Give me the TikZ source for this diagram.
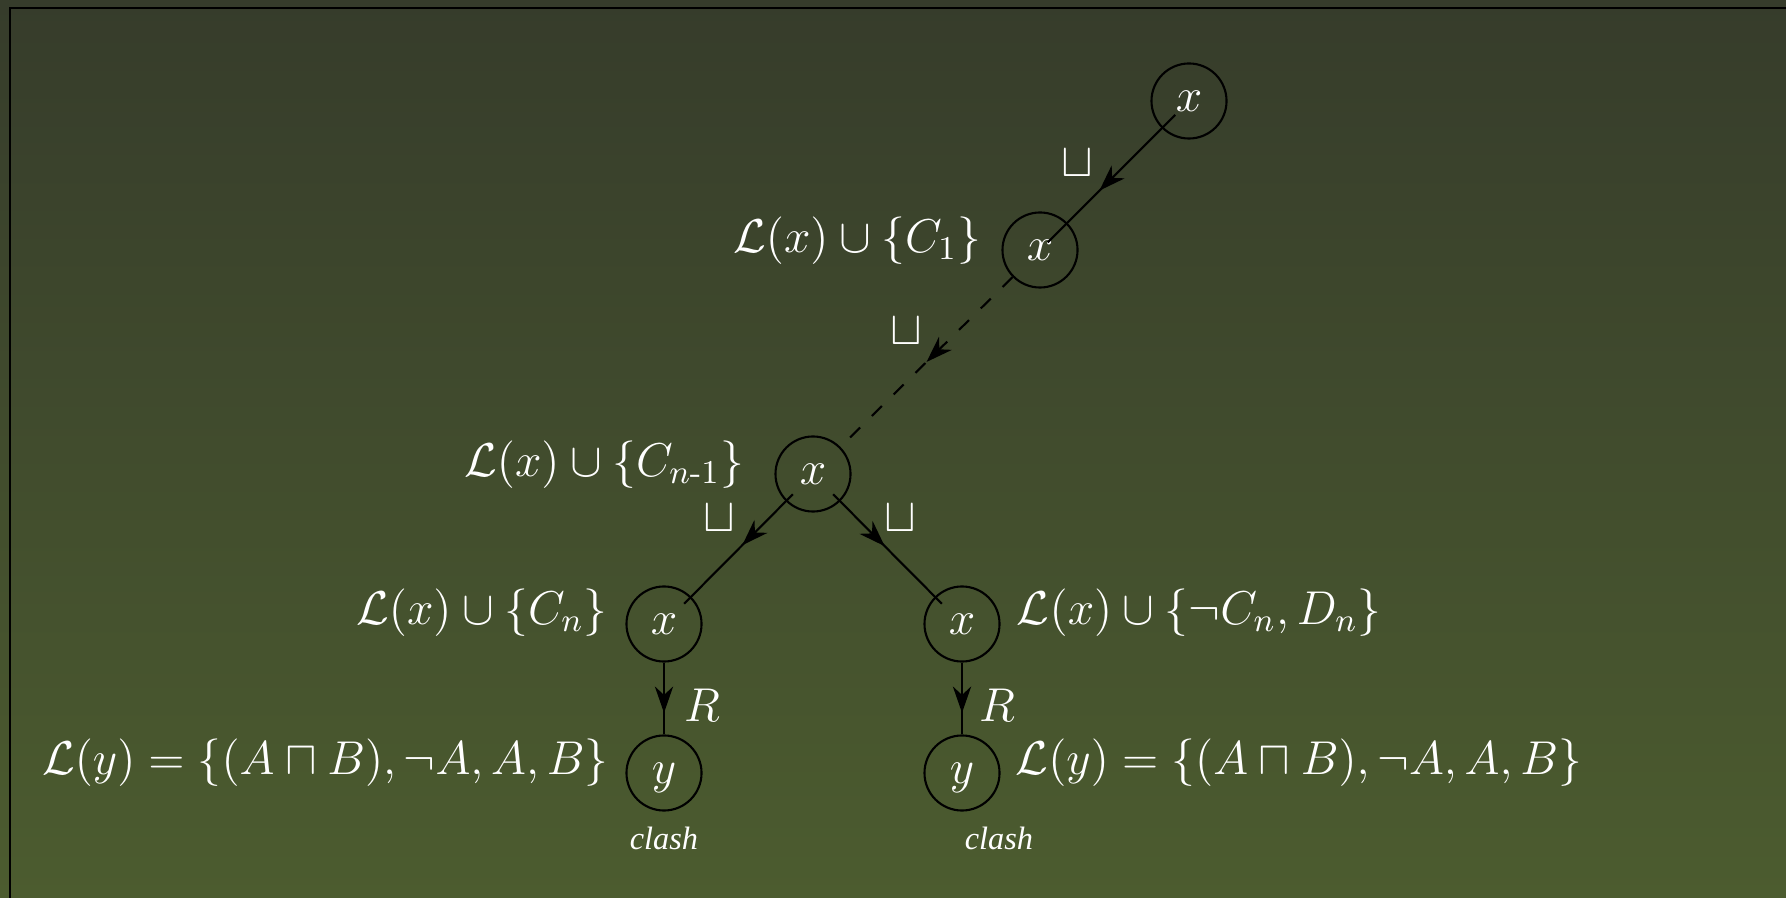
\documentclass[tikz,border=0pt]{standalone}
\usepackage{fix-cm}
\usepackage{amsmath}
\usepackage{fontspec}
\newfontfamily\clashfont{Liberation Serif}
\usetikzlibrary{arrows.meta, decorations.markings, positioning}

\definecolor{slidetop}{RGB}{54,60,43}
\definecolor{slidebot}{RGB}{76,92,47}

\tikzset{
	vtx/.style={circle, draw, minimum size=0.75cm, inner sep=0pt, text depth=0pt, text=white},
	lbl/.style={inner sep=0pt, text=white},
	midarrow/.style={postaction={decorate}, decoration={markings,
		mark=at position #1 with {\arrow{Stealth[length=7.5pt, width=5.2pt, inset=2.4pt]}}}},
}

\begin{document}
\begin{tikzpicture}[x=0.01cm, y=-0.01cm, line width=0.6pt,
	every node/.style={font=\fontsize{13.5}{16}\selectfont}]
	
	% slide background
	\useasboundingbox (0,0) rectangle (1786,898);
	\shade[top color=slidetop, bottom color=slidebot] (0,0) rectangle (1786,898);
	\draw (10,898) -- (10,8) -- (1786,8);
	
	% tableau nodes
	\node[vtx] (x0)  at (1189,101) {$x$};
	\node[vtx] (x1)  at (1040,250) {$x$};
	\node[vtx] (xn1) at (813,474)  {$x$};
	\node[vtx] (xl)  at (664,624)  {$x$};
	\node[vtx] (xr)  at (962,624)  {$x$};
	\node[vtx] (yl)  at (664,773)  {$y$};
	\node[vtx] (yr)  at (962,773)  {$y$};
	
	% node labels
	\node[lbl, left=0.195cm of x1, yshift=0.09cm] (lx1) {$\mathcal{L}(x)\cup\{C_1\}$};
	\node[lbl, left=0.295cm of xn1, yshift=0.095cm] (lxn1) {$\mathcal{L}(x)\cup\{C_{n\text{-}1}\}$};
	\node[lbl, left=0.17cm of xl, yshift=0.11cm] (lxl) {$\mathcal{L}(x)\cup\{C_n\}$};
	\node[lbl, right=0.153cm of xr, yshift=0.11cm] (lxr) {$\mathcal{L}(x)\cup\{\neg C_n, D_n\}$};
	\node[lbl, left=0.16cm of yl, yshift=0.1cm] (lyl) {$\mathcal{L}(y)=\{(A\sqcap B),\neg A,A,B\}$};
	\node[lbl, right=0.14cm of yr, yshift=0.1cm] (lyr) {$\mathcal{L}(y)=\{(A\sqcap B),\neg A,A,B\}$};
	
	% edges
	\draw[midarrow=0.66, shorten <=-0.19cm, shorten >=-0.277cm] (x0) -- (x1);
	\draw[midarrow=0.5, dash pattern=on 4pt off 4.7pt] (x1) -- (xn1);
	\draw[midarrow=0.46, shorten <=-0.1cm, shorten >=-0.1cm] (xn1) -- (xl);
	\draw[midarrow=0.47, shorten <=-0.1cm, shorten >=-0.1cm] (xn1) -- (xr);
	\draw[midarrow=0.7] (xl) -- (yl);
	\draw[midarrow=0.7] (xr) -- (yr);
	
	% edge labels
	\node[lbl] (or1) at (1077,163) {$\sqcup$};
	\node[lbl] (or2) at (906,331)  {$\sqcup$};
	\node[lbl] (or3) at (719,518)  {$\sqcup$};
	\node[lbl] (or4) at (900,518)  {$\sqcup$};
	\node[lbl] (rl)  at (702,705)  {$R$};
	\node[lbl] (rr)  at (997,705)  {$R$};
	
	% clashes
	\node[lbl, font=\fontsize{9.2}{11}\selectfont\clashfont\itshape] (cl) at (664,838) {clash};
	\node[lbl, font=\fontsize{9.2}{11}\selectfont\clashfont\itshape] (cr) at (999,838) {clash};
	
\end{tikzpicture}
\end{document}
